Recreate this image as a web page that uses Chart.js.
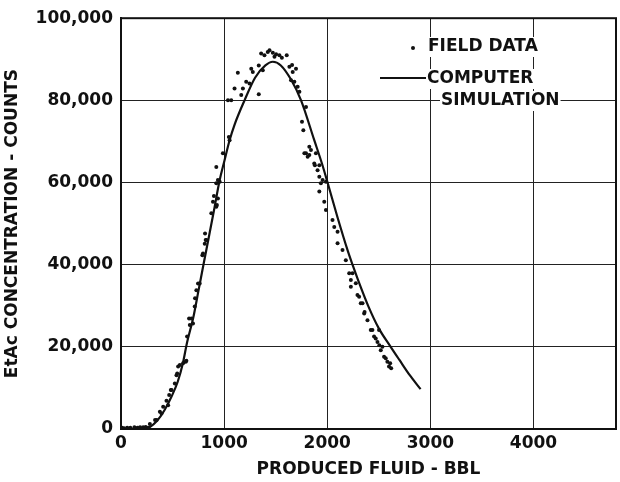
<!DOCTYPE html>
<html>
<head>
<meta charset="utf-8">
<script src="https://cdn.jsdelivr.net/npm/chart.js@4.4.0/dist/chart.umd.min.js"></script>
<style>
  html, body { margin: 0; padding: 0; background: #fff; }
  #wrap { width: 620px; height: 482px; }
</style>
</head>
<body>
<div id="wrap"><canvas id="tracerChart"></canvas></div>
<script>
/* global Chart */

// field data (produced fluid bbl, EtAc counts)
var fieldX = [10, 30, 60, 90, 130, 160, 185, 215, 240, 265, 280, 330, 345, 377, 393, 409, 441, 457, 467, 483,
  490, 522, 538, 545, 554, 570, 602, 628, 634, 641, 660, 667, 683, 698, 715, 718, 731, 747, 763, 789,
  795, 812, 821, 828, 815, 876, 892, 901, 924, 930, 940, 924, 957, 924, 940, 988, 1046, 1053, 1037, 1069,
  1101, 1133, 1166, 1182, 1214, 1246, 1263, 1278, 1336, 1336, 1359, 1375, 1391, 1423, 1440, 1472, 1488, 1504, 1536, 1560,
  1607, 1633, 1649, 1659, 1665, 1681, 1697, 1713, 1730, 1755, 1768, 1778, 1794, 1794, 1810, 1826, 1826, 1842, 1874, 1880,
  1890, 1906, 1923, 1923, 1923, 1938, 1955, 1971, 1987, 1987, 2051, 2068, 2100, 2100, 2148, 2180, 2213, 2229, 2229, 2245,
  2277, 2293, 2309, 2325, 2342, 2358, 2362, 2390, 2422, 2438, 2454, 2470, 2487, 2502, 2505, 2519, 2535, 2551, 2567, 2583,
  2599, 2610, 2620];
var fieldY = [300, 200, 300, 300, 400, 300, 400, 400, 500, 300, 1200, 2200, 2200, 4200, 3800, 5400, 6900, 5800, 8300, 9500,
  9500, 11100, 13100, 13500, 15200, 15600, 16000, 16400, 16600, 22500, 26900, 25300, 26900, 25700, 29800, 31800, 33800, 35400, 35400, 42300,
  42700, 45100, 46000, 46000, 47600, 52500, 55300, 56700, 54100, 54500, 56100, 59800, 60200, 63800, 60600, 67100, 71100, 70300, 80000, 80000,
  82900, 86700, 81300, 82900, 84500, 84100, 87700, 86900, 88500, 81500, 91400, 87300, 91000, 91800, 92200, 91600, 90600, 91200, 91000, 90400,
  91000, 88200, 84900, 88600, 86900, 84500, 87700, 83300, 82100, 74800, 72700, 67100, 78400, 67100, 66300, 68700, 66700, 67900, 64600, 64200,
  67100, 63000, 64200, 61400, 57800, 59800, 60600, 55300, 60200, 53300, 50900, 49200, 48000, 45200, 43600, 41100, 37900, 36300, 34600, 37900,
  35500, 32600, 32200, 30600, 30600, 28100, 28500, 26500, 24100, 24100, 22500, 22000, 21200, 24100, 20400, 19200, 20000, 17600, 17200, 16400,
  15200, 16000, 14800];

// computer simulation curve
var simX = [0, 200, 280, 350, 420, 490, 550, 600, 640, 700, 750, 805, 850, 900, 957, 1000, 1053, 1100, 1198, 1300,
  1400, 1472, 1550, 1650, 1746, 1874, 1950, 2003, 2100, 2200, 2245, 2300, 2400, 2500, 2615, 2700, 2800, 2905];
var simY = [0, 0, 500, 2000, 4500, 7900, 11500, 16000, 21000, 27000, 33500, 40700, 46500, 53000, 60600, 65000, 70300, 74000, 80000, 85500,
  88500, 89400, 88500, 85000, 80000, 70300, 64500, 60000, 51500, 43300, 40000, 36200, 29800, 24500, 20000, 16800, 13100, 9700];

var xTicks = [0, 1000, 2000, 3000, 4000];
var yTicks = [0, 20000, 40000, 60000, 80000, 100000];

var fieldPoints = fieldX.map(function (x, i) { return { x: x, y: fieldY[i] }; });
var simPoints = simX.map(function (x, i) { return { x: x, y: simY[i] }; });

var labelFont = { family: "DejaVu Sans", weight: "bold", size: 17 };

// white-backed legend text inside the plot, like the original figure
var legendPlugin = {
  id: "figLegend",
  afterDraw: function (chart) {
    var ctx = chart.ctx;
    ctx.save();
    ctx.font = "bold 17px 'DejaVu Sans'";
    ctx.textBaseline = "middle";
    ctx.fillStyle = "#111";
    var rows = [
      { text: "FIELD DATA", x: 428, y: 47 },
      { text: "COMPUTER", x: 427, y: 79 },
      { text: "SIMULATION", x: 441, y: 101 }
    ];
    rows.forEach(function (r) {
      var w = ctx.measureText(r.text).width;
      ctx.fillStyle = "#fff";
      ctx.fillRect(r.x - 1, r.y - 10, w + 2, 20);
      ctx.fillStyle = "#111";
      ctx.fillText(r.text, r.x, r.y);
    });
    ctx.beginPath();
    ctx.arc(413, 48, 2, 0, Math.PI * 2);
    ctx.fill();
    ctx.strokeStyle = "#111";
    ctx.lineWidth = 2;
    ctx.beginPath();
    ctx.moveTo(380, 78);
    ctx.lineTo(426, 78);
    ctx.stroke();
    // frame
    var a = chart.chartArea;
    ctx.lineWidth = 2;
    ctx.strokeRect(a.left, a.top, a.right - a.left, a.bottom - a.top);
    ctx.restore();
  }
};

var ctx = document.getElementById("tracerChart").getContext("2d");
var tracerChart = new Chart(ctx, {
  type: "scatter",
  data: {
    datasets: [
      {
        label: "FIELD DATA",
        data: fieldPoints,
        pointRadius: 2,
        pointBackgroundColor: "#111",
        pointBorderWidth: 0,
        showLine: false,
      },
      {
        label: "COMPUTER SIMULATION",
        data: simPoints,
        showLine: true,
        borderColor: "#111",
        borderWidth: 2.2,
        pointRadius: 0,
        cubicInterpolationMode: "monotone",
      },
    ],
  },
  options: {
    responsive: true,
    maintainAspectRatio: false,
    animation: false,
    layout: {
      padding: { top: 18, right: 3, left: 0, bottom: 0 },
    },
    plugins: {
      legend: { display: false },
      tooltip: { enabled: false },
    },
    scales: {
      x: {
        type: "linear",
        min: 0,
        max: 4800,
        afterBuildTicks: function (scale) {
          scale.ticks = xTicks.map(function (v) { return { value: v }; });
        },
        afterFit: function (scale) {
          scale.height = 53;
        },
        grid: { color: "#222", lineWidth: 1, drawTicks: false },
        border: { color: "#111", width: 2 },
        ticks: {
          color: "#111",
          font: labelFont,
          padding: 4,
          maxRotation: 0,
          callback: function (v) { return String(v); },
        },
        title: {
          display: true,
          text: "PRODUCED FLUID - BBL",
          color: "#111",
          font: labelFont,
          padding: { top: 0, bottom: 2 },
        },
      },
      y: {
        type: "linear",
        min: 0,
        max: 100000,
        afterBuildTicks: function (scale) {
          scale.ticks = yTicks.map(function (v) { return { value: v }; });
        },
        afterFit: function (scale) {
          scale.width = 121;
        },
        grid: { color: "#222", lineWidth: 1, drawTicks: false },
        border: { color: "#111", width: 2 },
        ticks: {
          color: "#111",
          font: labelFont,
          padding: 8,
          callback: function (v) { return v.toLocaleString("en-US"); },
        },
        title: {
          display: true,
          text: "EtAc CONCENTRATION - COUNTS",
          color: "#111",
          font: labelFont,
          padding: { top: 2, bottom: 0 },
        },
      },
    },
  },
  plugins: [legendPlugin],
});
</script>
</body>
</html>
